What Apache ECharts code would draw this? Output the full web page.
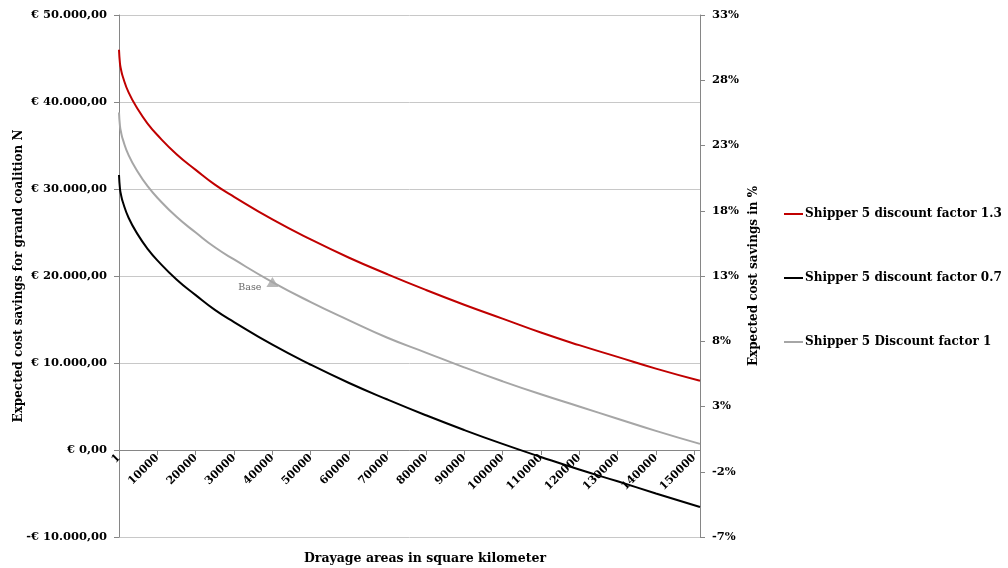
<!DOCTYPE html>
<html>
<head>
<meta charset="utf-8">
<script src="https://cdn.jsdelivr.net/npm/echarts@6/dist/echarts.min.js"></script>
<style>
  html, body { margin: 0; padding: 0; background: #ffffff; }
  #chart { width: 1008px; height: 568px; }
</style>
</head>
<body>
<div id="chart"></div>
<script>
// Drayage area (square kilometer)
const areas = [1, 250, 500, 1000, 2500, 5000, 7500, 10000, 15000, 20000, 25000, 30000, 40000, 50000, 60000, 70000, 80000, 90000, 100000, 110000, 120000, 130000, 140000, 151500];
// Expected cost savings (EUR)
const factor13 = [46000, 44450, 43800, 42900, 41100, 39100, 37500, 36200, 34000, 32200, 30500, 29100, 26500, 24200, 22100, 20200, 18400, 16700, 15100, 13500, 12050, 10700, 9350, 7950];
const factor07 = [31600, 30050, 29400, 28500, 26700, 24700, 23100, 21800, 19600, 17800, 16100, 14700, 12100, 9800, 7700, 5800, 4000, 2300, 700, -800, -2250, -3600, -5000, -6550];
const factor10 = [38800, 37250, 36600, 35700, 33900, 31900, 30300, 29000, 26800, 25000, 23300, 21900, 19300, 17000, 14900, 12900, 11200, 9500, 7900, 6400, 5000, 3600, 2200, 700];
const seriesNames = ['Shipper 5 discount factor 1.3', 'Shipper 5 discount factor 0.7', 'Shipper 5 Discount factor 1'];
const basePoint = [40000, 19300];
const baseLabel = 'Base';
// Tick labels
const leftTicks = {'-10000': '-€ 10.000,00', '0': '€ 0,00', '10000': '€ 10.000,00', '20000': '€ 20.000,00', '30000': '€ 30.000,00', '40000': '€ 40.000,00', '50000': '€ 50.000,00'};
const rightTicks = ['-7%', '-2%', '3%', '8%', '13%', '18%', '23%', '28%', '33%'];
const xTickLabels = ['1', '10000', '20000', '30000', '40000', '50000', '60000', '70000', '80000', '90000', '100000', '110000', '120000', '130000', '140000', '150000'];

const FONT = '"DejaVu Serif", "Liberation Serif", serif';
const pair = (arr) => areas.map((a, i) => [a, arr[i]]);
const AXIS_GRAY = '#868686';

const chart = echarts.init(document.getElementById('chart'), null, { renderer: 'canvas' });
chart.setOption({
  animation: false,
  backgroundColor: '#ffffff',
  textStyle: { fontFamily: FONT },
  grid: [
    { left: 119, right: 308, top: 15, bottom: 31, containLabel: false, outerBoundsMode: 'none' },
    // grid used only to draw the x axis along the zero line
    { left: 119, right: 308, top: 15, height: 435, containLabel: false, outerBoundsMode: 'none' }
  ],
  title: {
    text: 'Drayage areas in square kilometer',
    left: 420, top: 547, textAlign: 'center',
    textStyle: { fontFamily: FONT, fontSize: 12.5, fontWeight: 'bold', color: '#000' }
  },
  legend: {
    orient: 'vertical',
    left: 784, top: 208, padding: 0,
    icon: 'rect',
    itemWidth: 19, itemHeight: 2, itemGap: 52,
    data: seriesNames,
    textStyle: { fontFamily: FONT, fontSize: 12, fontWeight: 'bold', color: '#000', padding: [0, 0, 0, -3] }
  },
  xAxis: [
    {
      type: 'value', gridIndex: 0,
      min: 0, max: 151500, interval: 10000,
      show: false
    },
    {
      type: 'value', gridIndex: 1,
      min: 0, max: 151500, interval: 10000,
      position: 'bottom',
      axisLine: { onZero: false, lineStyle: { color: AXIS_GRAY, width: 1 } },
      axisTick: { show: true, inside: false, length: 5, lineStyle: { color: AXIS_GRAY } },
      splitLine: { show: false },
      axisLabel: {
        rotate: 45, margin: 6, showMaxLabel: false,
        fontFamily: FONT, fontSize: 11, fontWeight: 'bold', color: '#000',
        formatter: (v) => xTickLabels[Math.round(v / 10000)] || ''
      }
    }
  ],
  yAxis: [
    {
      type: 'value', gridIndex: 0, position: 'left',
      min: -10000, max: 50000, interval: 10000,
      name: 'Expected cost savings for grand coalition N',
      nameLocation: 'middle', nameGap: 94, nameRotate: 90, nameMoveOverlap: false,
      nameTextStyle: { fontFamily: FONT, fontSize: 12, fontWeight: 'bold', color: '#000' },
      axisLine: { show: true, onZero: false, lineStyle: { color: AXIS_GRAY } },
      axisTick: { show: true, length: 5, lineStyle: { color: AXIS_GRAY } },
      splitLine: { show: true, lineStyle: { color: '#C8C8C8', width: 1 } },
      axisLabel: {
        margin: 12, fontFamily: FONT, fontSize: 11.5, fontWeight: 'bold', color: '#000',
        formatter: (v) => leftTicks[String(v)] || ''
      }
    },
    {
      type: 'value', gridIndex: 0, position: 'right',
      min: 0, max: 40, interval: 5,
      name: 'Expected cost savings in %',
      nameLocation: 'middle', nameGap: 48, nameRotate: 90, nameMoveOverlap: false,
      nameTextStyle: { fontFamily: FONT, fontSize: 12, fontWeight: 'bold', color: '#000' },
      axisLine: { show: true, onZero: false, lineStyle: { color: AXIS_GRAY } },
      axisTick: { show: true, length: 5, lineStyle: { color: AXIS_GRAY } },
      splitLine: { show: false },
      axisLabel: {
        margin: 12, fontFamily: FONT, fontSize: 11.5, fontWeight: 'bold', color: '#000',
        formatter: (v) => rightTicks[Math.round(v / 5)] || ''
      }
    },
    {
      type: 'value', gridIndex: 1, min: 0, max: 1, show: false
    }
  ],
  series: [
    {
      name: seriesNames[0], type: 'line', xAxisIndex: 0, yAxisIndex: 0,
      data: pair(factor13), smooth: 0.5, symbol: 'none',
      lineStyle: { color: '#C00000', width: 2 }, itemStyle: { color: '#C00000' }
    },
    {
      name: seriesNames[1], type: 'line', xAxisIndex: 0, yAxisIndex: 0,
      data: pair(factor07), smooth: 0.5, symbol: 'none',
      lineStyle: { color: '#000000', width: 2 }, itemStyle: { color: '#000000' }
    },
    {
      name: seriesNames[2], type: 'line', xAxisIndex: 0, yAxisIndex: 0,
      data: pair(factor10), smooth: 0.5, symbol: 'none',
      lineStyle: { color: '#A6A6A6', width: 2 }, itemStyle: { color: '#A6A6A6' }
    },
    {
      name: baseLabel, type: 'scatter', xAxisIndex: 0, yAxisIndex: 0,
      data: [basePoint], symbol: 'triangle', symbolSize: [12, 10],
      itemStyle: { color: '#A6A6A6' },
      label: {
        show: true, position: 'left', distance: 5, offset: [0, 5],
        formatter: baseLabel,
        fontFamily: FONT, fontSize: 9.5, color: '#404040'
      },
      z: 5
    }
  ]
});
</script>
</body>
</html>
